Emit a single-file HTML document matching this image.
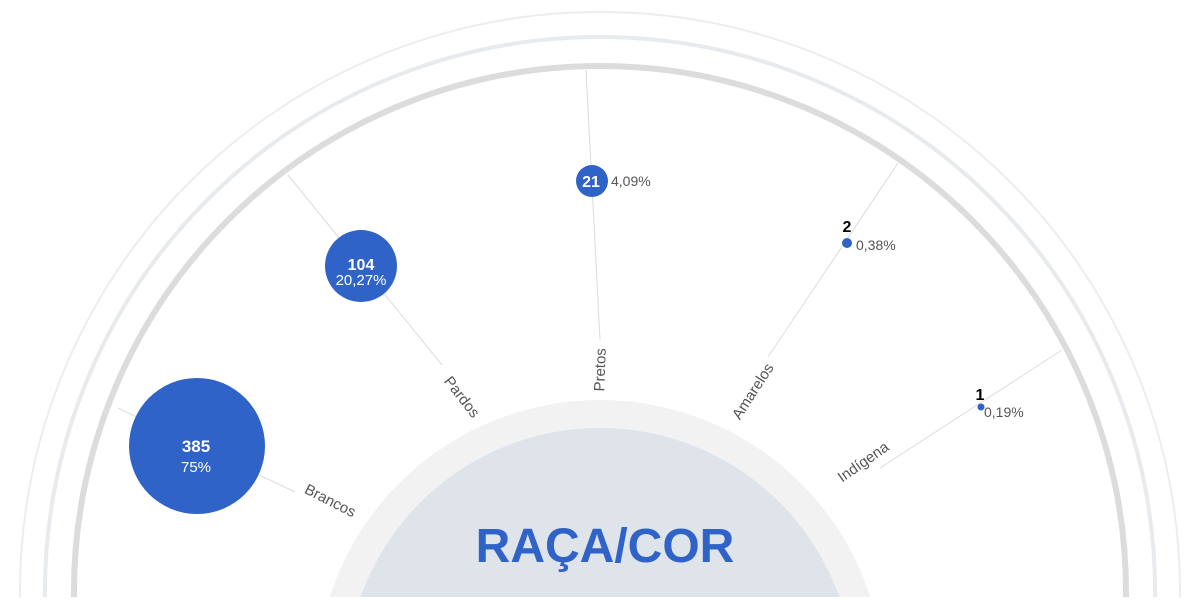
<!DOCTYPE html>
<html><head><meta charset="utf-8"><style>
html,body{margin:0;padding:0;background:#fff;width:1200px;height:604px;overflow:hidden;}
svg{display:block;font-family:"Liberation Sans","DejaVu Sans",sans-serif;}
</style></head><body>
<svg width="1200" height="604" viewBox="0 0 1200 604">
<defs><clipPath id="c"><rect x="0" y="0" width="1200" height="597"/></clipPath></defs>
<g clip-path="url(#c)">
<circle cx="600" cy="592" r="580" fill="none" stroke="#ebedef" stroke-width="2"/>
<circle cx="600" cy="592" r="555" fill="none" stroke="#e8ebee" stroke-width="4"/>
<circle cx="600" cy="592" r="526" fill="none" stroke="#dcdcdd" stroke-width="6"/>
<circle cx="600" cy="684" r="284" fill="#f2f2f2"/>
<circle cx="600" cy="682" r="254" fill="#dfe4ea"/>
</g>
<g stroke="#dcdcdc" stroke-width="1" fill="none">
<line x1="118" y1="408" x2="295" y2="492"/>
<line x1="288" y1="175" x2="442" y2="365"/>
<line x1="586" y1="70" x2="600" y2="340"/>
<line x1="898" y1="163" x2="768" y2="357"/>
<line x1="1062" y1="350" x2="880" y2="468"/>
</g>
<circle cx="197" cy="446" r="68" fill="#3063c8"/>
<circle cx="361" cy="266" r="36" fill="#3063c8"/>
<circle cx="592" cy="181" r="16" fill="#3063c8"/>
<circle cx="847" cy="243" r="5" fill="#3063c8"/>
<circle cx="981" cy="407" r="3.5" fill="#3063c8"/>
<g fill="#fff" text-anchor="middle">
<text x="196" y="452" font-size="17" font-weight="bold">385</text>
<text x="196" y="472" font-size="15">75%</text>
<text x="361" y="270" font-size="16" font-weight="bold">104</text>
<text x="361" y="285" font-size="15">20,27%</text>
<text x="591" y="187" font-size="16" font-weight="bold">21</text>
</g>
<g fill="#555" font-size="14">
<text x="611" y="186">4,09%</text>
<text x="856" y="250">0,38%</text>
<text x="984" y="417">0,19%</text>
</g>
<g fill="#000" font-size="16" font-weight="bold" text-anchor="middle">
<text x="847" y="232">2</text>
<text x="980" y="400">1</text>
</g>
<g fill="#555" font-size="15" text-anchor="middle">
<text transform="translate(328,505) rotate(27)">Brancos</text>
<text transform="translate(458,400) rotate(52)">Pardos</text>
<text transform="translate(605,370) rotate(-88)">Pretos</text>
<text transform="translate(757,394) rotate(-57)">Amarelos</text>
<text transform="translate(866,466) rotate(-35)">Indígena</text>
</g>
<text x="605" y="562" text-anchor="middle" fill="#3063c8" font-size="48" font-weight="bold">RAÇA/COR</text>
</svg>
</body></html>
